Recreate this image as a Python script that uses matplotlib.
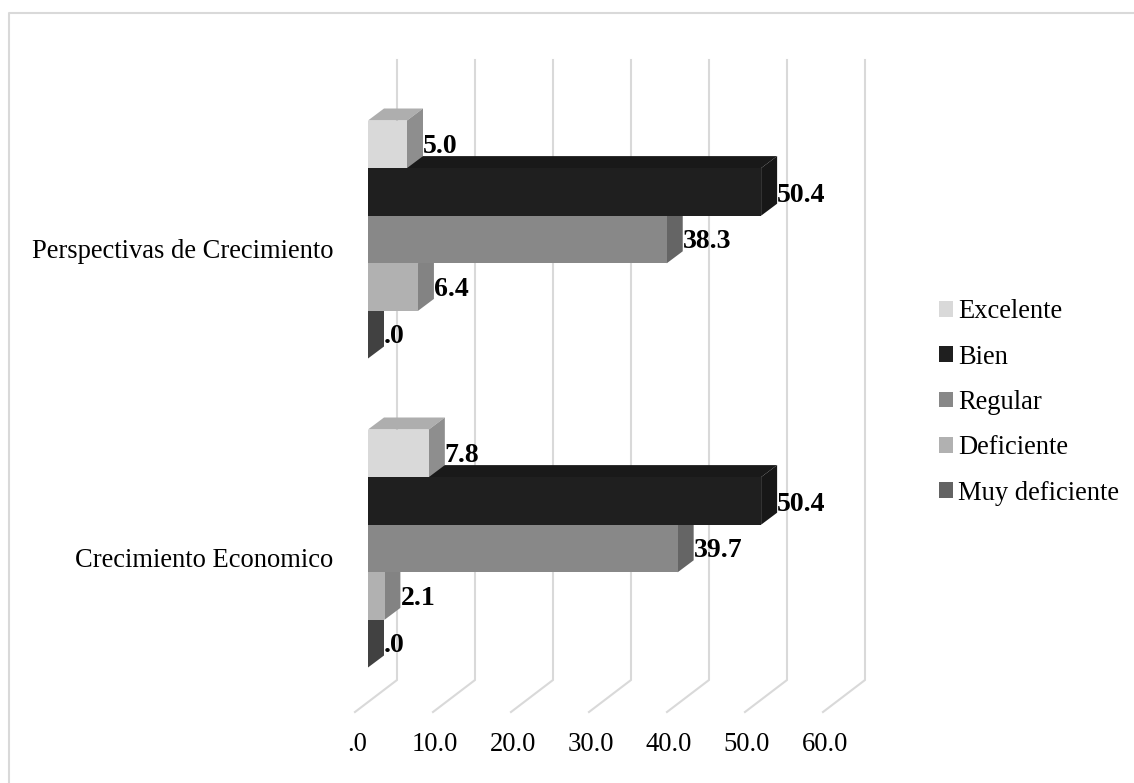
import numpy as np
import matplotlib
matplotlib.use('Agg')
import matplotlib.pyplot as plt
from matplotlib.patches import Polygon, Patch
from matplotlib.lines import Line2D

categories = ['Perspectivas de Crecimiento', 'Crecimiento Economico']
series = ['Excelente', 'Bien', 'Regular', 'Deficiente', 'Muy deficiente']
perspectivas = [5.0, 50.4, 38.3, 6.4, 0.0]
crecimiento = [7.8, 50.4, 39.7, 2.1, 0.0]
x_ticks = [0, 10, 20, 30, 40, 50, 60]
x_tick_labels = ['.0', '10.0', '20.0', '30.0', '40.0', '50.0', '60.0']

front_colors = ['#d9d9d9', '#1f1f1f', '#888888', '#b1b1b1', '#636363']
top_colors = ['#aeaeae', '#191919', '#6d6d6d', '#8e8e8e', '#4f4f4f']
side_colors = ['#8e8e8e', '#171717', '#656565', '#838383', '#414141']
grid_color = '#d9d9d9'

plt.rcParams['font.family'] = ['Liberation Serif']

# 7.8 px per x unit, 309 px between the two categories
fig = plt.figure(figsize=(11.34, 7.83), dpi=100)
ax = fig.add_axes([0, 0, 1, 1])
px_x = 7.8
px_y = 309.0
ax.set_xlim(-368 / px_x, (1134 - 368) / px_x)
ax.set_ylim((239.5 - 783) / px_y + 0, 239.5 / px_y)
ax.axis('off')

y_pos = [0, -1]
bar_h = 47.6 / px_y
depth_x = 16 / px_x
depth_y = 12 / px_y

# back wall and floor lines
wall_top = (239.5 - 60) / px_y
wall_bottom = (239.5 - 680) / px_y
floor_front = (239.5 - 712) / px_y
for t in x_ticks:
    bx = t + 29 / px_x
    fx = t - 13 / px_x
    ax.plot([fx, bx, bx], [floor_front, wall_bottom, wall_top], color=grid_color, lw=1.5,
            solid_joinstyle='miter', zorder=1)
    ax.text(t - 11 / px_x, (239.5 - 744.5) / px_y, x_tick_labels[x_ticks.index(t)],
            ha='center', va='center', fontsize=19.2, color='black')


def draw_bar(v, y_top, i):
    # y_top is the upper edge of the front face
    y_bot = y_top - bar_h
    z = 10 + i * 0.1 * -1
    ax.fill([0, v, v, 0], [y_bot, y_bot, y_top, y_top], color=front_colors[i], lw=0, zorder=z + 0.02)
    ax.add_patch(Polygon([(0, y_top), (v, y_top), (v + depth_x, y_top + depth_y), (depth_x, y_top + depth_y)],
                         facecolor=top_colors[i], lw=0, zorder=z))
    ax.add_patch(Polygon([(v, y_bot), (v + depth_x, y_bot + depth_y), (v + depth_x, y_top + depth_y), (v, y_top)],
                         facecolor=side_colors[i], lw=0, zorder=z + 0.01))


for values, yc, name in zip([perspectivas, crecimiento], y_pos, categories):
    for i, v in enumerate(values):
        y_top = yc + bar_h * (2.5 - i)
        draw_bar(v, y_top, i)
        drop = 5 if v == 50.4 else 3
        ax.text(v + depth_x, y_top - bar_h / 2 + (1 - drop) / px_y, '%.1f' % v if v > 0 else '.0',
                ha='left', va='center', fontsize=20, fontweight='bold', color='black', zorder=20)
    ax.text(-35 / px_x, yc - 12.5 / px_y, name, ha='right', va='center', fontsize=19.1, color='black')

# frame along the top and left only
fig.add_artist(Line2D([8.5 / 1134, 8.5 / 1134, 1], [0, 1 - 13 / 783, 1 - 13 / 783], color=grid_color, lw=1.5))

handles = [Patch(facecolor=c, edgecolor='none', label=s) for c, s in zip(front_colors, series)]
leg = ax.legend(handles=handles, loc='center left', bbox_to_anchor=(939 / 1134, 1 - 402.5 / 783),
                frameon=False, fontsize=19.1, handlelength=0.53, handleheight=0.53,
                handletextpad=0.19, labelspacing=0.765, borderpad=0, borderaxespad=0)

fig.savefig('out.png', dpi=100, facecolor='white')
